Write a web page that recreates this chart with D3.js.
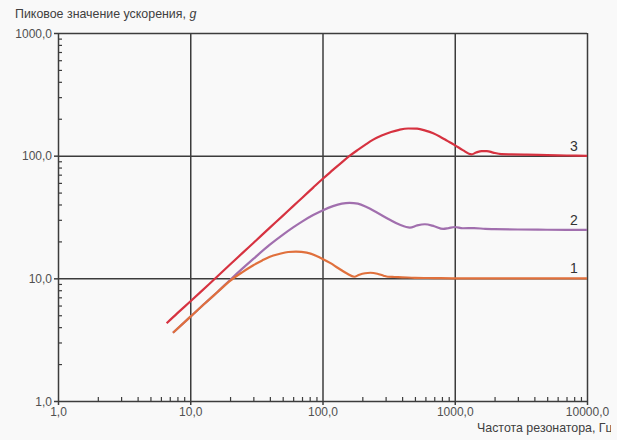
<!DOCTYPE html>
<html><head><meta charset="utf-8">
<script src="https://cdn.jsdelivr.net/npm/d3@7"></script>
<style>
html,body{margin:0;padding:0;background:#f9f9f9;}
svg{display:block;font-family:"Liberation Sans",Arial,Helvetica,sans-serif;}
</style></head>
<body>
<svg id="chart" width="617" height="440"></svg>
<script>
const yTitle = "Пиковое значение ускорения, ";
const yTitleUnit = "g";
const xTitle = "Частота резонатора, Гц";
const majorTicks = [1, 10, 100, 1000, 10000];
const yMajorTicks = [1, 10, 100, 1000];
const seriesNames = ["1", "2", "3"];

const freq1 = [7.4, 10, 13, 16, 20, 25, 30, 35, 40, 47, 55, 63, 76, 90, 100, 115, 130, 152, 174, 190, 210, 230, 260, 290, 312, 350, 400, 500, 700, 1000, 2000, 5000, 10000];
const val1  = [3.6, 4.85, 6.3, 7.7, 9.55, 11.3, 12.8, 14.0, 15.0, 15.8, 16.4, 16.5, 16.2, 15.2, 14.4, 13.3, 12.2, 11.0, 10.3, 10.7, 11.0, 11.1, 10.9, 10.5, 10.3, 10.25, 10.2, 10.1, 10.05, 10.0, 10.0, 10.0, 10.0];

const freq2 = [7.4, 10, 13, 16, 20, 25, 30, 40, 50, 60, 70, 85, 100, 120, 140, 160, 185, 215, 260, 323, 385, 458, 520, 594, 700, 817, 900, 1000, 1150, 1400, 1700, 2000, 3000, 5000, 10000];
const val2  = [3.6, 4.85, 6.3, 7.7, 9.7, 12.1, 14.4, 18.8, 22.6, 26, 29, 32.8, 35.8, 38.8, 40.6, 41.2, 40.6, 38.2, 34.2, 30.0, 27.3, 25.9, 27.0, 27.6, 26.6, 25.3, 25.7, 26.2, 25.6, 25.7, 25.3, 25.2, 25.0, 24.9, 24.8];

const freq3 = [6.63, 8, 10, 12, 15, 20, 25, 30, 40, 50, 60, 70, 85, 100, 120, 140, 161, 185, 210, 240, 280, 330, 380, 444, 520, 600, 687, 780, 880, 1000, 1150, 1340, 1450, 1600, 1750, 1950, 2255, 2700, 3500, 5000, 7000, 10000];
const val3  = [4.3, 5.2, 6.47, 7.75, 9.7, 12.95, 16.2, 19.4, 25.9, 32.3, 38.8, 45.2, 54.9, 64.5, 76.5, 88.3, 100, 111.5, 122.5, 134.5, 146, 156, 162.5, 166.5, 166, 160, 152, 142, 132, 122, 111, 102.5, 106, 109, 109, 106, 103, 102.5, 102, 101, 100.3, 99.5];

const colors = {s1: "#e0703c", s2: "#a16fae", s3: "#d63240"};

const svg = d3.select("#chart");
svg.append("defs").append("clipPath").attr("id", "clip")
  .append("rect").attr("x", 0).attr("y", 0).attr("width", 611).attr("height", 440);
const root = svg.append("g").attr("clip-path", "url(#clip)");

const L = 58, R = 587, T = 33, B = 401;
const x = d3.scaleLog().domain([1, 10000]).range([L, R]);
const y = d3.scaleLog().domain([1, 1000]).range([B, T]);

const fmt = v => d3.format(".1f")(v).replace(".", ",");
const minorX = [];
for (let d = 1; d < 10000; d *= 10) for (let k = 2; k <= 9; k++) minorX.push(d * k);
const minorY = [];
for (let d = 1; d < 1000; d *= 10) for (let k = 2; k <= 9; k++) minorY.push(d * k);

// grid
const gx = root.append("g").attr("transform", `translate(0,${B})`)
  .call(d3.axisBottom(x).tickValues(majorTicks.slice(1)).tickSize(-(B - T)).tickFormat(""));
const gy = root.append("g").attr("transform", `translate(${L},0)`)
  .call(d3.axisLeft(y).tickValues(yMajorTicks.slice(1)).tickSize(-(R - L)).tickFormat(""));
[gx, gy].forEach(g => {
  g.select(".domain").remove();
  g.selectAll("line").attr("stroke", "#3c3c3c").attr("stroke-width", 1.5);
});

// minor ticks
const mx = root.append("g").attr("transform", `translate(0,${B})`)
  .call(d3.axisTop(x).tickValues(minorX).tickSize(4).tickFormat(""));
const my = root.append("g").attr("transform", `translate(${L},0)`)
  .call(d3.axisRight(y).tickValues(minorY).tickSize(4).tickFormat(""));
[mx, my].forEach(g => {
  g.select(".domain").remove();
  g.selectAll("line").attr("stroke", "#3c3c3c").attr("stroke-width", 1.2);
});

// axes
const ax = root.append("g").attr("transform", `translate(0,${B})`)
  .call(d3.axisBottom(x).tickValues(majorTicks).tickSize(4).tickSizeOuter(0).tickPadding(2).tickFormat(fmt));
const ay = root.append("g").attr("transform", `translate(${L},0)`)
  .call(d3.axisLeft(y).tickValues(yMajorTicks).tickSize(4).tickSizeOuter(0).tickPadding(2).tickFormat(fmt));
[ax, ay].forEach(g => {
  g.select(".domain").attr("stroke", "#3c3c3c").attr("stroke-width", 1.5);
  g.selectAll("line").attr("stroke", "#3c3c3c").attr("stroke-width", 1.5);
  g.selectAll("text").attr("fill", "#505050").style("font-size", "12px").style("font-family", "'Liberation Sans',Arial,sans-serif");
});
ay.selectAll("text").attr("dy", "0.35em");

// curves
const line = d3.line().x(d => x(d[0])).y(d => y(d[1])).curve(d3.curveMonotoneX);
const series = [
  {f: freq2, v: val2, c: colors.s2},
  {f: freq1, v: val1, c: colors.s1},
  {f: freq3, v: val3, c: colors.s3}
];
series.forEach(s => {
  root.append("path").datum(d3.zip(s.f, s.v))
    .attr("d", line).attr("fill", "none").attr("stroke", s.c)
    .attr("stroke-width", 2.2).attr("stroke-linejoin", "round");
});

// series labels
const lastVals = [val1[val1.length - 1], val2[val2.length - 1], val3[val3.length - 1]];
seriesNames.forEach((n, i) => {
  root.append("text").attr("x", x(7950)).attr("y", y(lastVals[i]) - 5)
    .attr("text-anchor", "middle").attr("fill", "#333").style("font-size", "14px").text(n);
});

// titles
const yt = root.append("text").attr("x", 15).attr("y", 18).attr("fill", "#404040").style("font-size", "12.4px");
yt.append("tspan").text(yTitle);
yt.append("tspan").style("font-style", "italic").text(yTitleUnit);
root.append("text").attr("x", 477).attr("y", 432).attr("text-anchor", "start")
  .attr("fill", "#404040").style("font-size", "12.4px").text(xTitle);
</script>
</body></html>
